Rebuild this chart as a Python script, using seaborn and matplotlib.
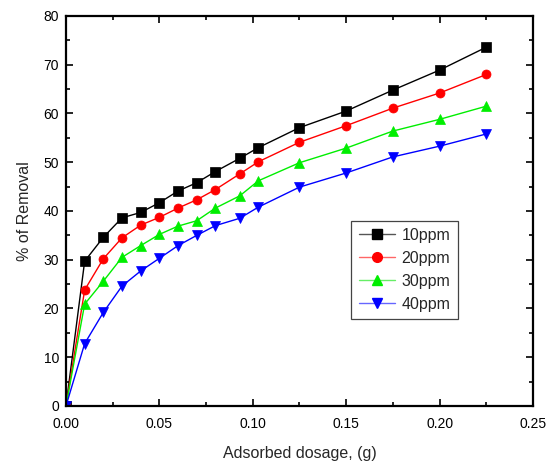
import numpy as np
import pandas as pd
import matplotlib
matplotlib.use("Agg")
import matplotlib.pyplot as plt
import seaborn as sns
from matplotlib.ticker import AutoMinorLocator
from matplotlib.lines import Line2D

dosage = [0.0, 0.01, 0.02, 0.03, 0.04, 0.05, 0.06, 0.07, 0.08, 0.093, 0.103,
          0.125, 0.15, 0.175, 0.2, 0.225]
ppm10 = [0.0, 29.7, 34.6, 38.6, 39.7, 41.7, 44.1, 45.8, 48.1, 50.8, 53.0,
         57.1, 60.5, 64.8, 68.9, 73.6]
ppm20 = [0.0, 23.8, 30.2, 34.5, 37.1, 38.7, 40.6, 42.3, 44.4, 47.6, 50.1,
         54.1, 57.5, 61.1, 64.2, 68.0]
ppm30 = [0.0, 20.9, 25.6, 30.5, 32.9, 35.2, 36.9, 38.0, 40.6, 43.1, 46.2,
         49.9, 52.9, 56.4, 58.8, 61.5]
ppm40 = [0.0, 12.8, 19.2, 24.6, 27.7, 30.3, 32.9, 35.0, 37.0, 38.5, 40.8,
         44.9, 47.8, 51.1, 53.3, 55.8]
series_names = ["10ppm", "20ppm", "30ppm", "40ppm"]
colors = ["#000000", "#ff0000", "#00ee00", "#0000ff"]
markers = ["s", "o", "^", "v"]
x_ticks = [0.00, 0.05, 0.10, 0.15, 0.20, 0.25]
y_ticks = [0, 10, 20, 30, 40, 50, 60, 70, 80]

frames = []
for name, vals in zip(series_names, [ppm10, ppm20, ppm30, ppm40]):
    frames.append(pd.DataFrame({"dosage": dosage, "removal": vals, "series": name}))
df = pd.concat(frames, ignore_index=True)

sns.set_style("ticks")
plt.rcParams["font.family"] = ["Liberation Sans", "DejaVu Sans"]

fig = plt.figure(figsize=(5.48, 4.65), dpi=100)
ax = fig.add_axes([0.1204, 0.1269, 0.8522, 0.8387])

sns.lineplot(data=df, x="dosage", y="removal", hue="series", style="series",
             hue_order=series_names, style_order=series_names,
             palette=dict(zip(series_names, colors)),
             markers=dict(zip(series_names, markers)),
             dashes=False, markersize=6.5, markeredgewidth=0.5,
             linewidth=1.0, ax=ax, legend=False, clip_on=True)

for line, c in zip(ax.get_lines(), colors):
    line.set_markeredgecolor(c)

ax.set_xlim(0, 0.25)
ax.set_ylim(0, 80)
ax.set_xticks(x_ticks)
ax.set_xticklabels([f"{t:.2f}" for t in x_ticks])
ax.set_yticks(y_ticks)
ax.xaxis.set_minor_locator(AutoMinorLocator(2))
ax.yaxis.set_minor_locator(AutoMinorLocator(2))
ax.tick_params(which="both", direction="in", top=True, right=True,
               width=1.2, labelsize=10, colors="black")
ax.tick_params(which="major", length=5)
ax.tick_params(which="minor", length=3)
ax.tick_params(axis="x", which="major", pad=8)
ax.tick_params(axis="y", which="major", pad=5)
for s in ax.spines.values():
    s.set_linewidth(1.6)
    s.set_color("black")

ax.set_xlabel("Adsorbed dosage, (g)", fontsize=11.5, labelpad=11)
ax.set_ylabel("% of Removal", fontsize=11.5, labelpad=8)

light = ["#555555", "#ff6666", "#66ee66", "#6666ff"]
handles = [Line2D([], [], color=lc, marker=m, markerfacecolor=c, markeredgecolor=c,
                  markersize=7, linewidth=1.0)
           for c, lc, m in zip(colors, light, markers)]
leg = ax.legend(handles, series_names, loc="upper left",
                bbox_to_anchor=(0.611, 0.475), frameon=True, fancybox=False,
                edgecolor="#444444", framealpha=1, fontsize=11.5,
                handlelength=2.3, handletextpad=0.4, borderpad=0.45,
                labelspacing=0.5, borderaxespad=0)
leg.get_frame().set_linewidth(0.9)

fig.savefig("out.png", dpi=100)
